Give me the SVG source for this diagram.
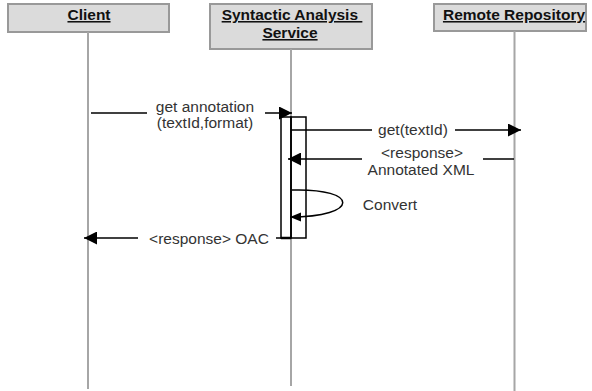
<svg xmlns="http://www.w3.org/2000/svg" width="592" height="391" viewBox="0 0 592 391">
<style>
.hdr{fill:#dbdbdb;stroke:#999;stroke-width:2}
.ht{font-family:"Liberation Sans",Arial,sans-serif;font-size:15.5px;font-weight:bold;fill:#111;text-anchor:middle;text-decoration:underline}
.life{stroke:#a6a6a6;stroke-width:2;fill:none}
.msg{stroke:#000;stroke-width:1.5;fill:none}
.lbl{font-family:"Liberation Sans",Arial,sans-serif;font-size:15.5px;fill:#333;text-anchor:middle}
.act{fill:none;stroke:#000;stroke-width:1.5}
</style>
<defs>
<marker id="arr" markerUnits="userSpaceOnUse" markerWidth="14" markerHeight="13" refX="13" refY="6.5" orient="auto">
<path d="M0,0 L13,6.5 L0,13 z" fill="#000"/>
</marker>
<marker id="arrs" markerUnits="userSpaceOnUse" markerWidth="12" markerHeight="10" refX="11" refY="4.5" orient="auto">
<path d="M0,0 L11,4.5 L0,9 z" fill="#000"/>
</marker>
</defs>
<g id="client">
<rect class="hdr" x="8" y="4" width="161" height="28"/>
<text class="ht" x="89" y="20">Client</text>
<line class="life" x1="88" y1="32" x2="88" y2="389"/>
</g>
<g id="service">
<rect class="hdr" x="210" y="4" width="162" height="45"/>
<text class="ht" x="292" y="20" xml:space="preserve">Syntactic Analysis </text>
<text class="ht" x="290" y="38">Service</text>
<line class="life" x1="291" y1="49" x2="291" y2="386"/>
</g>
<g id="remote">
<rect class="hdr" x="434" y="4" width="152" height="27"/>
<text class="ht" x="514" y="20">Remote Repository</text>
<line class="life" x1="514.5" y1="31" x2="514.5" y2="391"/>
</g>
<g id="activation">
<rect class="act" x="281" y="117" width="10" height="121"/>
<rect class="act" x="291" y="117" width="15" height="121"/>
<line x1="281" y1="238" x2="291" y2="238" stroke="#000" stroke-width="2.5"/>
</g>
<g id="connectors">
<line class="msg" x1="91" y1="113" x2="147" y2="113"/>
<line class="msg" x1="265" y1="113" x2="292" y2="113" marker-end="url(#arr)"/>
<line class="msg" x1="291" y1="130" x2="372" y2="130"/>
<line class="msg" x1="455" y1="130" x2="521" y2="130" marker-end="url(#arr)"/>
<line class="msg" x1="514" y1="159" x2="483" y2="159"/>
<line class="msg" x1="362" y1="159" x2="288" y2="159" marker-end="url(#arr)"/>
<path class="msg" d="M292,190 C360,188 360,217 290,217" marker-end="url(#arrs)"/>
<line class="msg" x1="281" y1="238" x2="276" y2="238"/>
<line class="msg" x1="138" y1="238" x2="84" y2="238" marker-end="url(#arr)"/>
</g>
<g id="labels">
<text class="lbl" x="205" y="112">get annotation</text>
<text class="lbl" x="205" y="128">(textId,format)</text>
<text class="lbl" x="413" y="135">get(textId)</text>
<text class="lbl" x="422" y="158">&lt;response&gt;</text>
<text class="lbl" x="421" y="175">Annotated XML</text>
<text class="lbl" x="390" y="210">Convert</text>
<text class="lbl" x="209" y="244">&lt;response&gt; OAC</text>
</g>
</svg>
